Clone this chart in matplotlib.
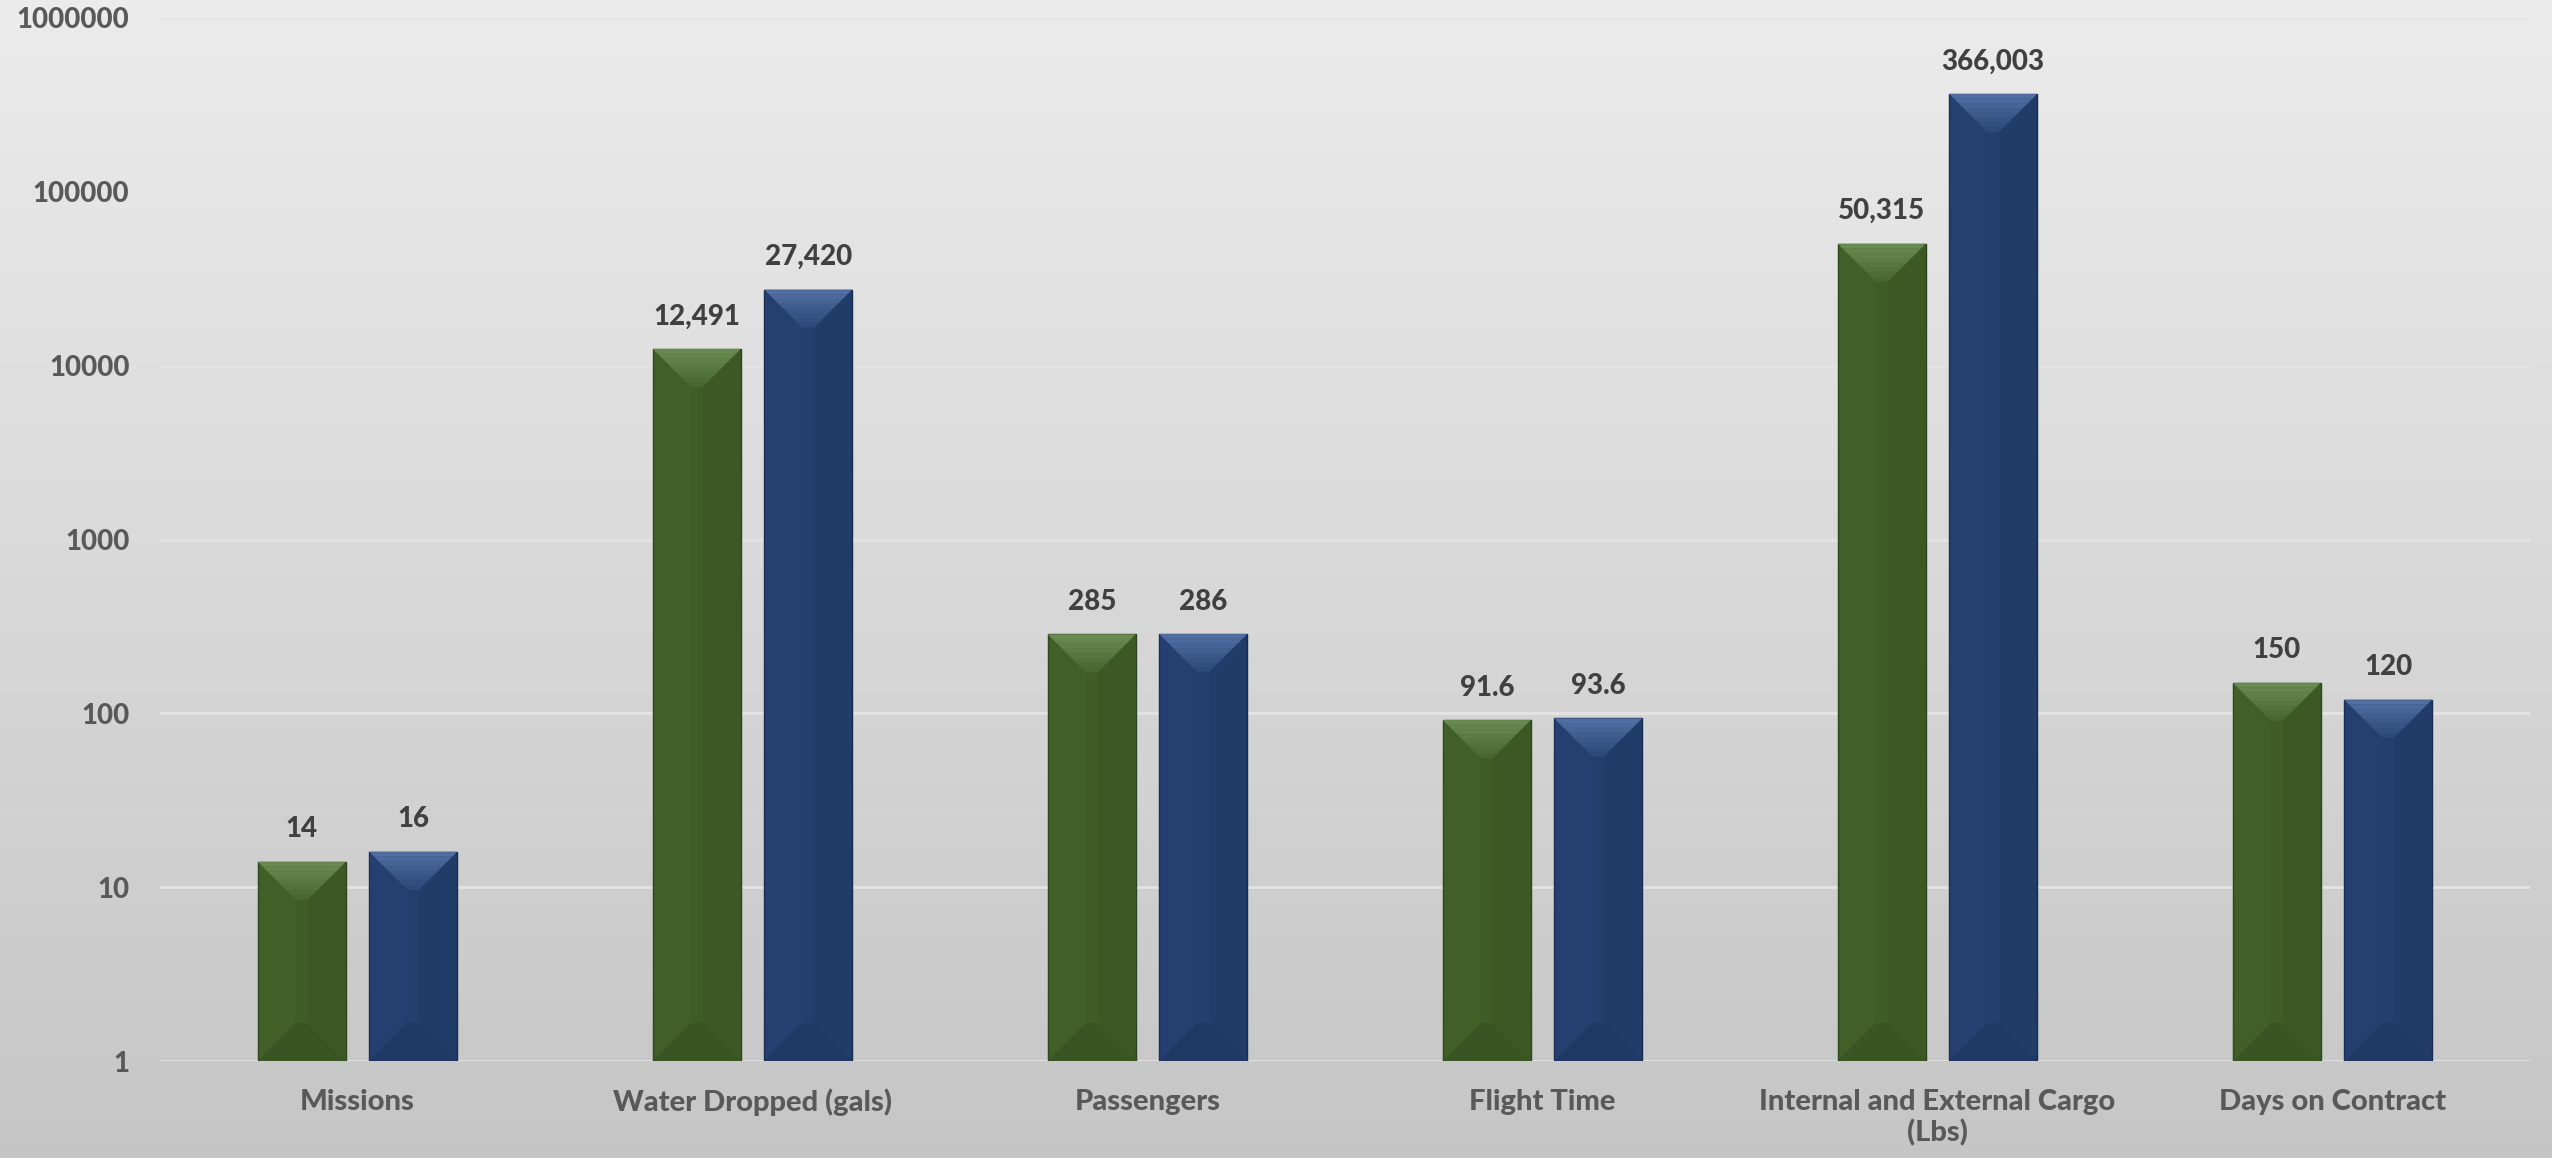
import numpy as np
import matplotlib
matplotlib.use("Agg")
import matplotlib.pyplot as plt
from matplotlib.patches import Polygon

categories = ["Missions", "Water Dropped (gals)", "Passengers", "Flight Time",
              "Internal and External Cargo\n(Lbs)", "Days on Contract"]
series_a = [14, 12491, 285, 91.6, 50315, 150]
series_b = [16, 27420, 286, 93.6, 366003, 120]
labels_a = ["14", "12,491", "285", "91.6", "50,315", "150"]
labels_b = ["16", "27,420", "286", "93.6", "366,003", "120"]
yticks = [1, 10, 100, 1000, 10000, 100000, 1000000]

plt.rcParams['font.family'] = ['Lato', 'DejaVu Sans']

W, H = 2552, 1158
fig = plt.figure(figsize=(W / 100, H / 100), dpi=100)

# background gradient
bg = fig.add_axes([0, 0, 1, 1], zorder=-10)
grad = np.linspace(0, 1, 256)[:, None] * np.ones((1, 16))
top_c = np.array([0.925, 0.925, 0.925])
bot_c = np.array([0.775, 0.775, 0.775])
img = top_c[None, None, :] * (1 - grad[..., None]) + bot_c[None, None, :] * grad[..., None]
bg.imshow(img, aspect='auto', extent=[0, 1, 0, 1])
bg.axis('off')

ax = fig.add_axes([160 / W, (H - 1061) / H, (2530 - 160) / W, (1061 - 18) / H])
ax.patch.set_alpha(0)
ax.set_yscale('log')
ax.set_ylim(1, 1000000)
ax.set_xlim(-0.5, len(categories) - 0.5)

x = np.arange(len(categories))
w = 0.223
off = 0.141
green, blue = '#3f5e27', '#243f6e'
bars_a = ax.bar(x - off, series_a, w, color=green, edgecolor='#2c431b', linewidth=1, zorder=3)
bars_b = ax.bar(x + off, series_b, w, color=blue, edgecolor='#182b4f', linewidth=1, zorder=3)

for s in ax.spines.values():
    s.set_visible(False)
ax.set_yticks(yticks)
ax.set_yticklabels([str(t) for t in yticks])
ax.yaxis.set_minor_locator(matplotlib.ticker.NullLocator())
ax.tick_params(axis='y', length=0, pad=22, labelsize=20, labelcolor='#595959')
ax.set_xticks(x)
ax.set_xticklabels(categories, linespacing=1.2)
ax.tick_params(axis='x', length=0, pad=20, labelsize=21, labelcolor='#595959')
for t in ax.get_xticklabels() + ax.get_yticklabels():
    t.set_fontweight(900)
ax.grid(axis='y', color='#e4e4e4', linewidth=2, zorder=0)
ax.set_axisbelow(True)

# bevel effect on bars
inv = ax.transData.inverted()
d = 38
steps = 8
def bevel(bars, light, dark, side_l, side_r):
    for b in bars:
        (x0, y0), (x1, y1) = ax.transData.transform([(b.get_x(), 1), (b.get_x() + b.get_width(), b.get_height())])
        dd = min(d, (x1 - x0) / 2)
        # graded top bevel: lighter near the top edge
        for k in range(steps):
            t0, t1 = dd * k / steps, dd * (k + 1) / steps
            pts = [(x0 + t0, y1 - t0), (x1 - t0, y1 - t0), (x1 - t1, y1 - t1), (x0 + t1, y1 - t1)]
            ax.add_patch(Polygon(inv.transform(pts), closed=True, color=light,
                                 alpha=0.75 * (1 - k / steps) + 0.1, linewidth=0, zorder=4))
        shapes = [
            ([(x0, y0), (x1, y0), (x1 - dd, y0 + dd), (x0 + dd, y0 + dd)], dark, 0.35),
            ([(x0, y0), (x0, y1), (x0 + dd, y1 - dd), (x0 + dd, y0 + dd)], side_l, 0.15),
            ([(x1, y0), (x1, y1), (x1 - dd, y1 - dd), (x1 - dd, y0 + dd)], side_r, 0.2),
        ]
        for pts, c, a in shapes:
            ax.add_patch(Polygon(inv.transform(pts), closed=True, color=c, alpha=a,
                                 linewidth=0, zorder=4))

bevel(bars_a, '#71945a', '#2f471c', '#4b6c33', '#32491f')
bevel(bars_b, '#5a77ad', '#1a2d54', '#2e4a7c', '#1b3056')

for bars, labs in ((bars_a, labels_a), (bars_b, labels_b)):
    for b, lab in zip(bars, labs):
        ax.annotate(lab, (b.get_x() + b.get_width() / 2, b.get_height()),
                    xytext=(0, 14), textcoords='offset points', ha='center', va='bottom',
                    fontsize=20, fontweight=900, color='#404040', zorder=5)

fig.savefig('out.png', dpi=100)
